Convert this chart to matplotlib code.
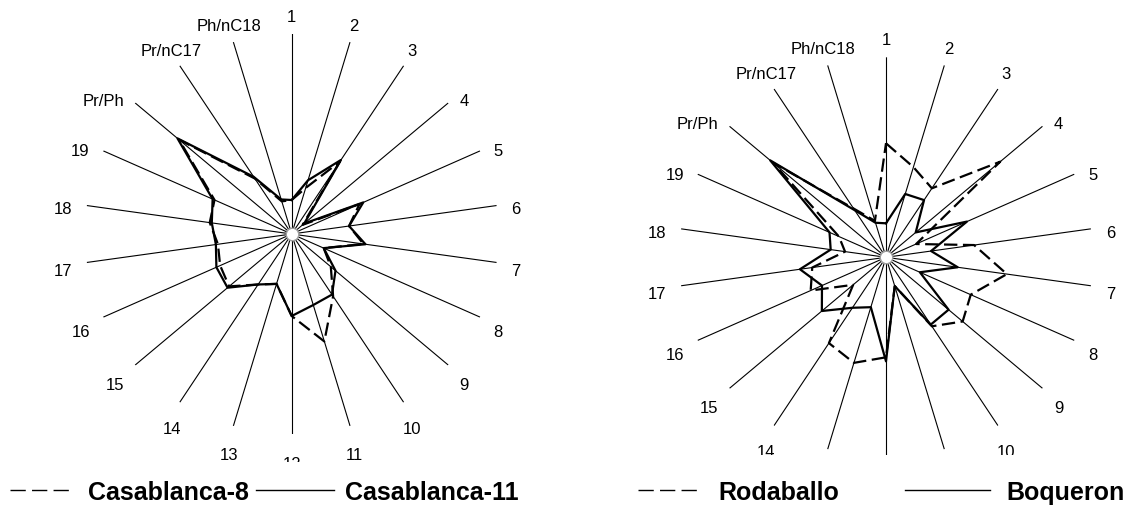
import numpy as np
import matplotlib
matplotlib.use("Agg")
import matplotlib.pyplot as plt
from matplotlib.lines import Line2D
from matplotlib.transforms import Bbox, TransformedBbox

plt.rcParams['font.family'] = ['Liberation Sans', 'DejaVu Sans']

categories = [str(i) for i in range(1, 20)] + ['Pr/Ph', 'Pr/nC17', 'Ph/nC18']

# values as % of the axis maximum
casablanca_8 = [17, 24, 43, 7, 36, 28, 35, 17, 25, 37, 56, 41, 26, 30, 40, 38, 36, 40, 41, 72, 33, 17]
casablanca_11 = [17, 28, 44, 8, 38, 28, 36, 17, 28, 36, 37, 41, 26, 30, 41, 40, 37, 39, 42, 73, 34, 18]
rodaballo = [57, 47, 41, 73, 16, 43, 59, 45, 49, 41, 15, 50, 55, 51, 21, 40, 36, 20, 25, 72, 29, 19]
boqueron = [17, 33, 34, 19, 43, 22, 35, 18, 40, 40, 15, 52, 26, 30, 41, 34, 42, 27, 30, 74, 28, 18]
r_max = 100

DASH = (0, (6, 2.5))
W, H = 1146, 510


def draw_radar(ax, dashed, solid, clip):
    n = len(categories)
    theta = np.arange(n) * 2 * np.pi / n
    ax.set_theta_zero_location('N')
    ax.set_theta_direction(-1)
    ax.set_ylim(0, r_max)
    ax.axis('off')
    ax.set_aspect('auto')

    # spokes
    for t in theta:
        ln, = ax.plot([t, t], [0, r_max], color='black', lw=0.8, zorder=1)
        ln.set_clip_box(clip)

    th = np.append(theta, theta[0])
    ax.plot(th, dashed + dashed[:1], color='black', lw=1.6, ls=DASH, zorder=3)
    ax.plot(th, solid + solid[:1], color='black', lw=1.6, zorder=3)

    # hub
    ax.plot(0, 0, 'o', ms=9, mfc='white', mec='#a0a0a0', mew=1.0, zorder=5)

    # category labels
    labels = []
    for t, lab in zip(theta, categories):
        s, c = np.sin(t), np.cos(t)
        ha = 'right' if s < -0.6 else ('left' if s > 0.6 else 'center')
        va = 'bottom' if c > 0.7 else ('top' if c < -0.7 else 'center')
        dy = 12 * c - 10 * max(0.0, -c)
        if va == 'center':
            dy -= 5
        elif va == 'bottom':
            dy -= 2
        a = ax.annotate(lab, xy=(t, r_max), xytext=(15 * s, dy),
                        textcoords='offset pixels', ha=ha, va=va,
                        fontsize=12, annotation_clip=False)
        a.set_clip_path(None)
        a.set_clip_box(clip)
        a.set_clip_on(True)
        labels.append(a)
    return labels


def legend_row(x_dash, x_lab1, x_solid, x_lab2, labels, y=491):
    yf = 1 - y / H
    fig.add_artist(Line2D([x_dash[0] / W, x_dash[1] / W], [yf, yf], transform=fig.transFigure,
                          color='black', lw=1.0, ls=(0, (11, 4.5))))
    fig.add_artist(Line2D([x_solid[0] / W, x_solid[1] / W], [yf, yf], transform=fig.transFigure,
                          color='black', lw=1.0))
    yb = 1 - (y + 9) / H
    fig.text(x_lab1 / W, yb, labels[0], fontsize=18, fontweight='bold', va='baseline')
    fig.text(x_lab2 / W, yb, labels[1], fontsize=18, fontweight='bold', va='baseline')


fig = plt.figure(figsize=(W / 100, H / 100), dpi=100)

ax1 = fig.add_axes([(291.7 - 207) / W, (H - 435) / H, 414 / W, 400 / H], projection='polar')
ax2 = fig.add_axes([(886 - 207) / W, (H - 458.3) / H, 414 / W, 400 / H], projection='polar')

clip1 = TransformedBbox(Bbox.from_extents(0, (H - 463) / H, 0.5, 1), fig.transFigure)
clip2 = TransformedBbox(Bbox.from_extents(0.5, (H - 456) / H, 1, 1), fig.transFigure)

labels1 = draw_radar(ax1, casablanca_8, casablanca_11, clip1)
labels2 = draw_radar(ax2, rodaballo, boqueron, clip2)

legend_row((10, 70), 88, (256, 334), 345, ['Casablanca-8', 'Casablanca-11'])
legend_row((638, 700), 718, (905, 990), 1006, ['Rodaballo', 'Boqueron'])

# drop category labels that fall completely below the cut-off edge of each chart
fig.canvas.draw()
renderer = fig.canvas.get_renderer()
for labs, clip in ((labels1, clip1), (labels2, clip2)):
    for a in labs:
        if a.get_window_extent(renderer).y1 <= clip.y0:
            a.remove()

fig.savefig('out.png', dpi=100, facecolor='white')
